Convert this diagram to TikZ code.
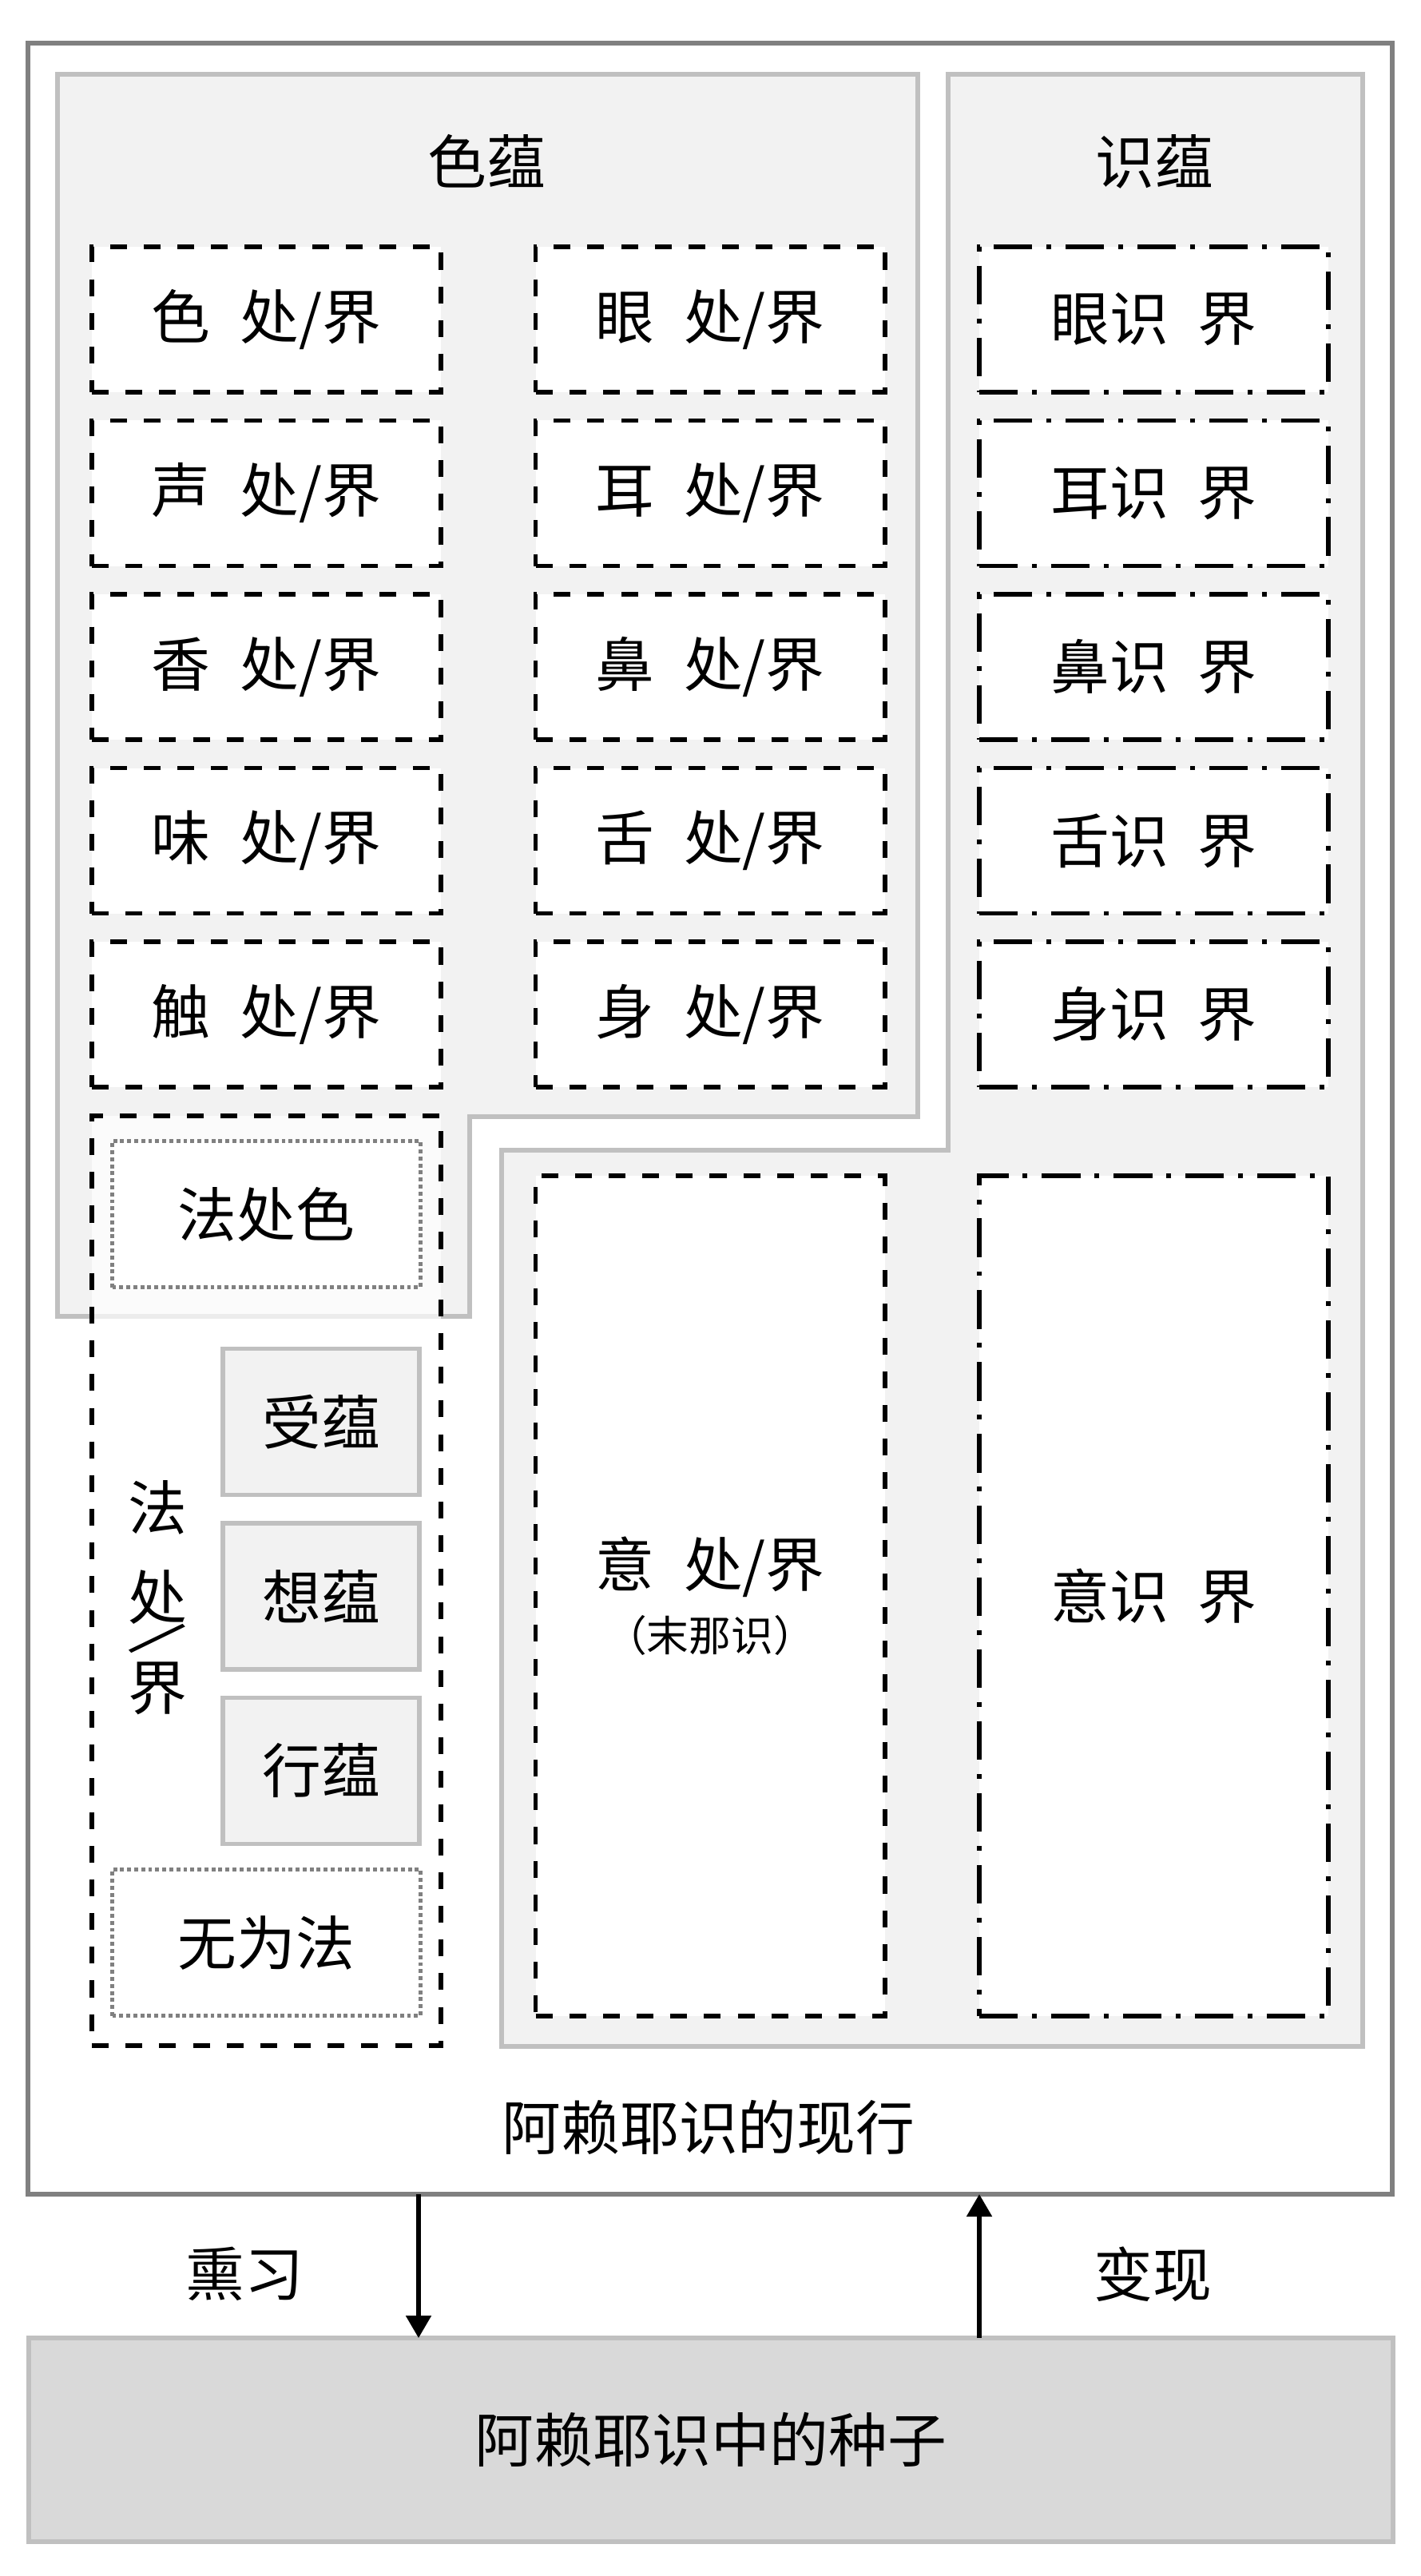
\documentclass[tikz,border=0pt]{standalone}
\usepackage{fontspec}
\setmainfont{Noto Sans CJK SC}
\usetikzlibrary{positioning}
\usetikzlibrary{arrows.meta}
\definecolor{regionfill}{HTML}{F2F2F2}
\definecolor{regionline}{HTML}{C0C0C0}
\definecolor{frameline}{HTML}{808080}
\definecolor{seedfill}{HTML}{D9D9D9}

\begin{document}
\begin{tikzpicture}
	[font=\fontsize{21}{25}\selectfont, node distance=0.355cm and 1.185cm,
	 every node/.style={outer sep=0pt},
	 >={Triangle[length=0.28cm,width=0.31cm]},
	 regionpath/.style={fill=regionfill,draw=regionline,line width=1.5pt},
	 jie/.style={rectangle,draw,fill=white,line width=1.7pt,dash pattern=on 6pt off 6pt,minimum width=4.37cm,minimum height=1.82cm},
	 shijie/.style={jie,dash pattern=on 13.7pt off 5.1pt on 1.7pt off 5.1pt},
	 yun/.style={rectangle,draw=regionline,fill=regionfill,line width=1.5pt,minimum width=2.46cm,minimum height=1.83cm},
	 dotbox/.style={rectangle,draw=frameline,fill=white,line width=1.4pt,dash pattern=on 1.4pt off 1.1pt,minimum width=3.86cm,minimum height=1.83cm},
	 nowbox/.style={rectangle,draw=frameline,line width=1.7pt},
	 seedbox/.style={rectangle,draw=regionline,fill=seedfill,line width=1.7pt}]
	\useasboundingbox (0,0) rectangle (17.78,-32.25);
	\node[nowbox,minimum width=17.08cm,minimum height=26.93cm] (now) at (8.89,-14.005) {};
	% 色蕴 / 识蕴
	\filldraw[regionpath] (0.72,-0.93) -- (11.49,-0.93) -- (11.49,-13.98) -- (5.88,-13.98) -- (5.88,-16.48) -- (0.72,-16.48) -- cycle;
	\filldraw[regionpath] (11.87,-0.93) -- (17.06,-0.93) -- (17.06,-25.62) -- (6.28,-25.62) -- (6.28,-14.40) -- (11.87,-14.40) -- cycle;
	\node (seyun)  at (6.09,-2.02)  {色蕴};
	\node (shiyun) at (14.45,-2.02) {识蕴};
	\node[jie]    (seJ)    at (3.335,-4.00) {色\enspace 处/界};
	\node[jie]    (shengJ) [below=of seJ]    {声\enspace 处/界};
	\node[jie]    (xiangJ) [below=of shengJ] {香\enspace 处/界};
	\node[jie]    (weiJ)   [below=of xiangJ] {味\enspace 处/界};
	\node[jie]    (chuJ)   [below=of weiJ]   {触\enspace 处/界};
	\node[jie]    (yanJ)   [right=of seJ]    {眼\enspace 处/界};
	\node[jie]    (erJ)    [below=of yanJ]   {耳\enspace 处/界};
	\node[jie]    (biJ)    [below=of erJ]    {鼻\enspace 处/界};
	\node[jie]    (sheJ)   [below=of biJ]    {舌\enspace 处/界};
	\node[jie]    (shenJ)  [below=of sheJ]   {身\enspace 处/界};
	\node[shijie] (yanS)   [right=of yanJ]   {眼识\enspace 界};
	\node[shijie] (erS)    [below=of yanS]   {耳识\enspace 界};
	\node[shijie] (biS)    [below=of erS]    {鼻识\enspace 界};
	\node[shijie] (sheS)   [below=of biS]    {舌识\enspace 界};
	\node[shijie] (shenS)  [below=of sheS]   {身识\enspace 界};
	\node[jie,minimum height=10.52cm,align=center] (yiJ) [below=1.11cm of shenJ]
		{意\enspace 处/界\\[-2pt]{\fontsize{15}{17}\selectfont （末那识）}};
	\node[shijie,minimum height=10.52cm] (yiS) [below=1.11cm of shenS] {意识\enspace 界};
	% 法处/界
	\node[jie,fill opacity=0.7,minimum height=11.64cm] (faJ) [below=of chuJ] {};
	\node[dotbox] (fase)  [below=0.32cm of faJ.north] {法处色};
	\node[dotbox] (wuwei) [above=0.37cm of faJ.south] {无为法};
	\node[yun] (shou)   at (4.02,-17.80) {受蕴};
	\node[yun] (xiangY) [below=of shou]   {想蕴};
	\node[yun] (xing)   [below=of xiangY] {行蕴};
	\node[align=center,font=\fontsize{21}{32}\selectfont] (faLabel) at (1.97,-20.0)
		{法\\处\\\makebox[0pt][l]{\makebox[1em]{\smash{\raisebox{0.9em}{\rotatebox[origin=c]{-47}{/}}}}}界};
	\node (nowtxt) at (8.87,-26.63) {阿赖耶识的现行};
	% 种子
	\node[seedbox,minimum width=17.08cm,minimum height=2.55cm] (seed) at (8.90,-30.545) {阿赖耶识中的种子};
	\coordinate (xunx)  at (5.24,0);
	\coordinate (bianx) at (12.26,0);
	\draw[->,line width=1.5pt] (now.south -| xunx) -- (seed.north -| xunx);
	\draw[->,line width=1.5pt] (seed.north -| bianx) -- (now.south -| bianx);
	\node (xunxi)    at (3.06,-28.47)  {熏习};
	\node (bianxian) at (14.43,-28.47) {变现};
\end{tikzpicture}
\end{document}
